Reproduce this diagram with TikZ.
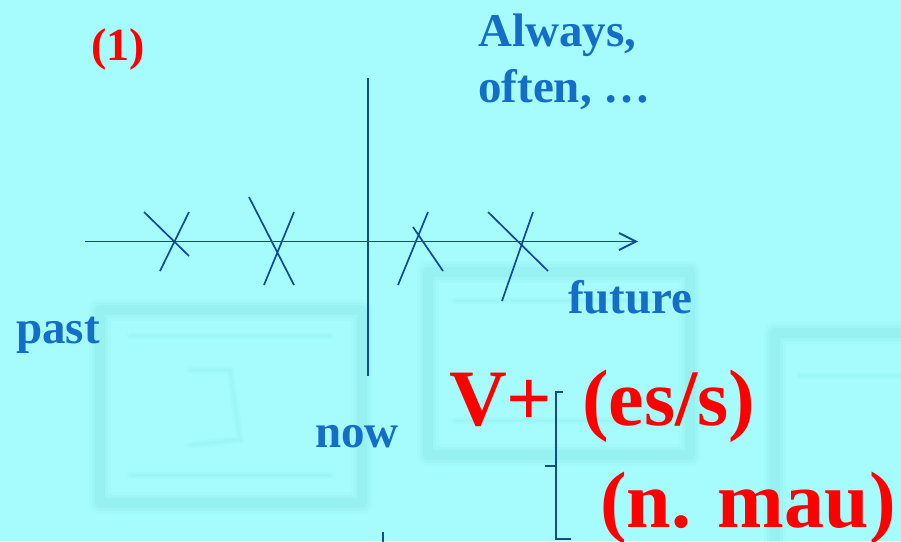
\documentclass[tikz,border=0pt]{standalone}
\usepackage{fontspec}
\setmainfont{Liberation Serif}
\usetikzlibrary{arrows.meta}
\definecolor{bgcyan}{RGB}{166,252,252}
\definecolor{ghost}{RGB}{110,210,210}
\definecolor{txtblue}{RGB}{20,110,200}
\definecolor{lineblue}{RGB}{16,76,150}
\definecolor{redtxt}{RGB}{255,0,0}
\tikzset{
  ghostbox/.style={draw=ghost, line width=22pt, opacity=0.07, line join=round,
    postaction={draw=ghost, line width=16pt, opacity=0.08},
    postaction={draw=ghost, line width=10pt, opacity=0.1}},
  ghostline/.style={draw=ghost, line width=7pt, opacity=0.07, line cap=round,
    postaction={draw=ghost, line width=3pt, opacity=0.08}},
  axisline/.style={draw=lineblue, line width=1.8pt},
  tick/.style={draw=lineblue, line width=1.7pt},
  bluelabel/.style={inner sep=0pt, anchor=base west, text=txtblue, font=\bfseries\fontsize{47}{56}\selectfont},
  redsmall/.style={inner sep=0pt, anchor=base west, text=redtxt, font=\bfseries\fontsize{46}{56}\selectfont},
  redbig/.style={inner sep=0pt, anchor=base west, text=redtxt, font=\bfseries\fontsize{80}{96}\selectfont},
}
\begin{document}
\begin{tikzpicture}[x=1pt, y=-1pt]
\fill[bgcyan] (0,0) rectangle (901,541);
\useasboundingbox (0,0) rectangle (901,541);
% blurred background pictures
\draw[ghostbox] (100,310) rectangle (362,503);
\draw[ghostline] (130,335) -- (330,335);
\draw[ghostline] (190,370) -- (230,370) -- (240,440) -- (190,445);
\draw[ghostline] (130,475) -- (330,475);
\draw[ghostbox] (428,272) rectangle (690,455);
\draw[ghostline] (455,300) -- (660,300);
\draw[ghostline] (455,420) -- (660,420);
\draw[ghostbox] (775,333) rectangle (915,560);
\draw[ghostline] (800,375) -- (900,375);
% axes
\coordinate (axL) at (85,241.5);
\coordinate (axR) at (638,241.5);
\coordinate (vT) at (368,78);
\coordinate (vB) at (368,376);
\coordinate (sT) at (383,532);
\coordinate (sB) at (383,545);
\draw[axisline, -{Straight Barb[length=17pt,width=17pt,line width=1.8pt]}] (axL) -- (axR);
\draw[axisline] (vT) -- (vB);
\draw[axisline] (sT) -- (sB);
% crosses
\coordinate (c1a) at (144,212); \coordinate (c1b) at (189,256);
\coordinate (c1c) at (189,212); \coordinate (c1d) at (160,271);
\coordinate (c2a) at (249,197); \coordinate (c2b) at (294,285);
\coordinate (c2c) at (294,212); \coordinate (c2d) at (264,285);
\coordinate (c3a) at (428,212); \coordinate (c3b) at (398,285);
\coordinate (c3c) at (413,227); \coordinate (c3d) at (443,271);
\coordinate (c4a) at (488,212); \coordinate (c4b) at (548,271);
\coordinate (c4c) at (533,212); \coordinate (c4d) at (502,301);
\draw[tick] (c1a) -- (c1b) (c1c) -- (c1d);
\draw[tick] (c2a) -- (c2b) (c2c) -- (c2d);
\draw[tick] (c3a) -- (c3b) (c3c) -- (c3d);
\draw[tick] (c4a) -- (c4b) (c4c) -- (c4d);
% bracket
\coordinate (bT) at (563,392);
\coordinate (bTc) at (556,392);
\coordinate (bBc) at (556,539);
\coordinate (bB) at (571,539);
\coordinate (bM) at (545,466);
\coordinate (bMc) at (556,466);
\draw[tick] (bT) -- (bTc) -- (bBc) -- (bB);
\draw[tick] (bM) -- (bMc);
% labels
\node[redsmall] (one) at (91,60) {(1)};
\node[bluelabel] (always) at (478,46) {Always,};
\node[bluelabel] (often) at (478,102) {often, …};
\node[bluelabel] (past) at (16,343) {past};
\node[bluelabel] (now) at (315,447) {now};
\node[bluelabel] (future) at (568,313) {future};
\node[redbig] (vplus) at (449,425) {V+};
\node[redbig] (ess) at (582,425) {(es/s)};
\node[redbig] (nmau) at (600,527) {(n. mau)};
\end{tikzpicture}
\end{document}
